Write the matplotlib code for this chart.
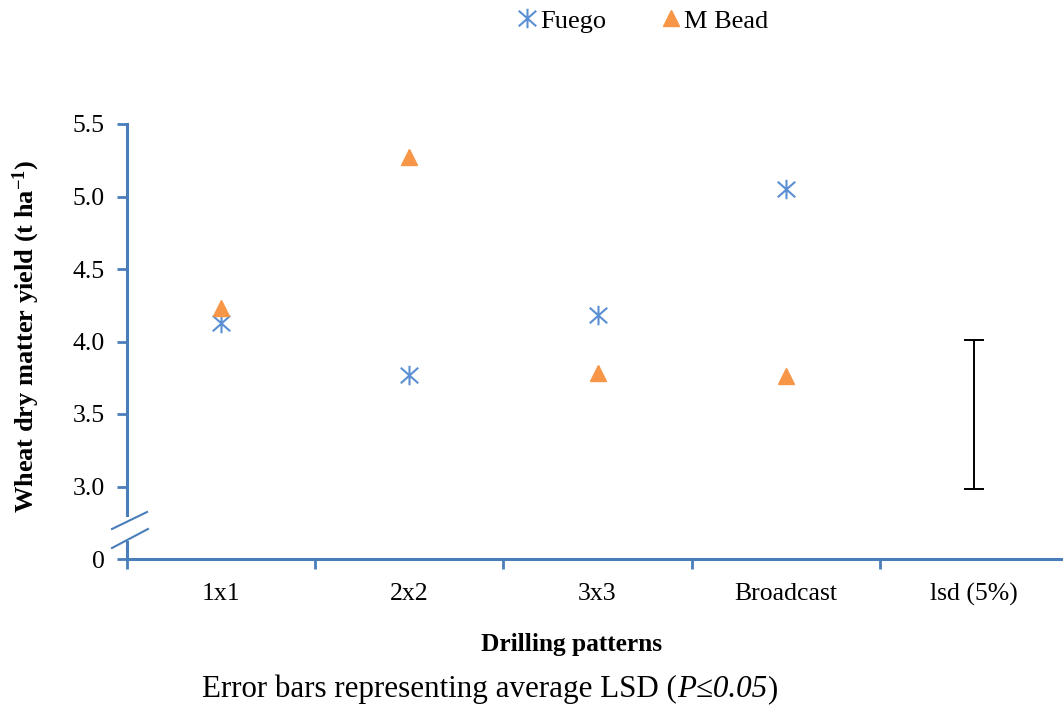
import matplotlib
matplotlib.use("Agg")
import matplotlib.pyplot as plt
from matplotlib.patches import Rectangle
from matplotlib.lines import Line2D
from matplotlib.path import Path
from matplotlib.offsetbox import TextArea, HPacker, AnchoredOffsetbox

plt.rcParams['font.family'] = ['Liberation Serif', 'DejaVu Serif']
plt.rcParams['mathtext.fontset'] = 'custom'
plt.rcParams['mathtext.rm'] = 'Liberation Serif'
plt.rcParams['mathtext.it'] = 'Liberation Serif:italic'
plt.rcParams['mathtext.bf'] = 'Liberation Serif:bold'

categories = ['1x1', '2x2', '3x3', 'Broadcast', 'lsd (5%)']
fuego = [4.13, 3.77, 4.18, 5.05]
m_bead = [4.23, 5.27, 3.78, 3.76]
lsd_low = 2.98
lsd_high = 4.01
yticks = [2.5, 3.0, 3.5, 4.0, 4.5, 5.0, 5.5]
yticklabels = ['0', '3.0', '3.5', '4.0', '4.5', '5.0', '5.5']

W, H = 1063, 706
fig = plt.figure(figsize=(W / 100, H / 100), dpi=100)
left, right, bottom, top = 127, 1068, 559, 124
ax = fig.add_axes([left / W, 1 - bottom / H, (right - left) / W, (bottom - top) / H])

spine_col = '#4A7EBB'
blue = '#5B8FD3'
orange = '#F79646'

star = Path([(0, -1), (0, 1), (-0.9, -0.8), (0.9, 0.8), (-0.9, 0.8), (0.9, -0.8)],
            [Path.MOVETO, Path.LINETO, Path.MOVETO, Path.LINETO, Path.MOVETO, Path.LINETO])

x = list(range(len(fuego)))
ax.plot(x, fuego, linestyle='none', marker=star, markersize=14,
        markeredgewidth=1.5, color=blue, label='Fuego', clip_on=False)
ax.plot(x, m_bead, linestyle='none', marker='^', markersize=11,
        color=orange, markeredgecolor=orange, label='M Bead', clip_on=False)

lsd_center = (lsd_low + lsd_high) / 2
ax.errorbar([4], [lsd_center], yerr=[[lsd_center - lsd_low], [lsd_high - lsd_center]],
            fmt='none', ecolor='black', elinewidth=1.4, capsize=7, capthick=1.4)

ax.set_xlim(-0.5, len(categories) - 0.5)
ax.set_ylim(2.5, 5.5)
ax.set_yticks(yticks)
ax.set_yticklabels(yticklabels)
ax.set_xticks(range(len(categories)))
ax.set_xticklabels(categories)
ax.set_xticks([i - 0.5 for i in range(len(categories) + 1)], minor=True)
ax.tick_params(axis='x', which='major', length=0, pad=17, labelsize=18.5)
ax.tick_params(axis='x', which='minor', length=7, width=2, color=spine_col, direction='out')
ax.tick_params(axis='y', which='major', length=7, width=2, color=spine_col,
               direction='out', labelsize=18.5, pad=9)

for s in ['top', 'right']:
    ax.spines[s].set_visible(False)
for s in ['left', 'bottom']:
    ax.spines[s].set_color(spine_col)
    ax.spines[s].set_linewidth(2.2)

# axis break on y
tr = fig.transFigure
def px(xp, yp):
    return (xp / W, 1 - yp / H)
gap = Rectangle(px(120, 541), 14 / W, 24 / H, transform=tr, facecolor='white',
                edgecolor='none', zorder=5)
fig.patches.append(gap)
for (x0, y0, x1, y1) in [(112, 529, 147, 512), (112, 548, 148, 529)]:
    a = px(x0, y0); b = px(x1, y1)
    fig.lines.append(Line2D([a[0], b[0]], [a[1], b[1]], transform=tr,
                            color=spine_col, linewidth=1.5, zorder=6))

fig.text(26 / W, 1 - 336 / H, r'Wheat dry matter yield (t ha$^{\mathbf{-1}}$)',
         rotation=90, ha='center', va='center', fontsize=19, fontweight='bold')
fig.text(572 / W, 1 - 645 / H, 'Drilling patterns', ha='center', va='center',
         fontsize=18.3, fontweight='bold')

cap_parts = [('Error bars representing average LSD (', 'normal'),
             ('P≤0.05', 'italic'), (')', 'normal')]
areas = [TextArea(t, textprops=dict(fontsize=22.3, fontstyle=st)) for t, st in cap_parts]
pack = HPacker(children=areas, align='baseline', pad=0, sep=0)
anch = AnchoredOffsetbox(loc='center', child=pack, frameon=False,
                         bbox_to_anchor=(490 / W, 1 - 689 / H), bbox_transform=tr,
                         borderpad=0, pad=0)
fig.add_artist(anch)

fig.legend(loc='center', bbox_to_anchor=(640 / W, 1 - 21 / H), ncol=2, frameon=False,
           fontsize=19, handletextpad=-0.1, columnspacing=1.85, handlelength=1.2)

fig.savefig('out.png', dpi=100)
